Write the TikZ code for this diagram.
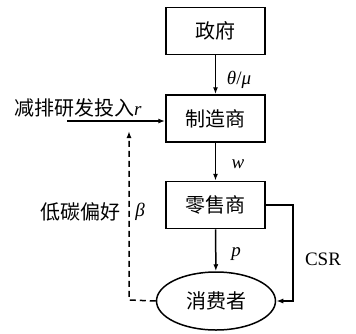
\documentclass[tikz,border=0pt]{standalone}
\usepackage{fontspec}
\setmainfont{Liberation Serif}
\newfontfamily\cjk{Noto Sans CJK SC}
\usetikzlibrary{shapes.geometric,arrows.meta}
\begin{document}
\begin{tikzpicture}[x=1pt,y=-1pt,
  box/.style={draw,line width=1.5pt,minimum width=99pt,minimum height=47pt,inner sep=0pt,font=\cjk\fontsize{20}{22}\selectfont},
  oval/.style={draw,line width=1.5pt,ellipse,minimum width=119pt,minimum height=58pt,inner sep=0pt,font=\cjk\fontsize{20}{22}\selectfont},
  conn/.style={line width=1.5pt,-{Latex[length=7pt,width=5pt]}},
  lbl/.style={font=\fontsize{19}{21}\selectfont,inner sep=0pt},
  clbl/.style={font=\cjk\fontsize{20}{22}\selectfont,inner sep=0pt}]
\useasboundingbox (0,0) rectangle (356,333);
\node[box] (gov) at (215.5,31) {政府};
\node[box] (man) at (215.5,118.5) {制造商};
\node[box] (ret) at (215.5,205) {零售商};
\node[oval] (con) at (216,301) {消费者};
\coordinate (rin) at (67,121);
\coordinate (dc) at (129,300);
\coordinate (dtop) at (129,131);
\draw[conn] (gov) -- (man);
\draw[conn] (man) -- (ret);
\draw[conn] (ret) -- (con);
\draw[conn] (rin) -- (rin -| man.west);
\draw[conn] (ret.east) -- ++(27,0) |- (con.east);
\draw[conn,dash pattern=on 6pt off 4pt] (con.west) -- (dc) -- (dtop);
\node[lbl] (l1) at (239,80) {\textit{θ}/\textit{μ}};
\node[lbl] (l2) at (238,164) {\textit{w}};
\node[lbl] (l3) at (236,254) {\textit{p}};
\node[lbl] (l4) at (323,259) {CSR};
\node[clbl,anchor=west] (l5) at (14,108) {减排研发投入{\fontsize{19}{21}\selectfont\rmfamily\itshape r}};
\node[clbl,anchor=east] (l6) at (121,212) {低碳偏好};
\node[lbl] (l7) at (140,212) {\textit{β}};
\end{tikzpicture}
\end{document}
